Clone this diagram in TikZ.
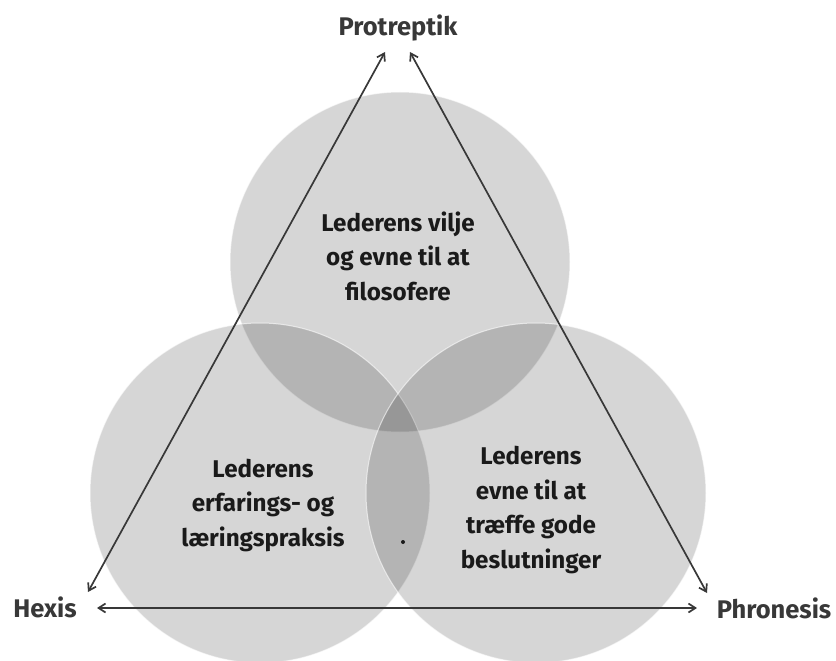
\documentclass[tikz,border=0pt]{standalone}
\usepackage{fontspec}
\setmainfont{Fira Sans}
\usetikzlibrary{arrows.meta}
\definecolor{ink}{HTML}{1A1A1A}
\definecolor{wire}{HTML}{383838}
\definecolor{pale}{HTML}{FFFFFF}

\begin{document}
\begin{tikzpicture}[x=1pt,y=-1pt,font=\bfseries\fontsize{24.2}{34.5}\selectfont,
  >={Straight Barb[length=7pt,width=9pt]},line cap=round,line join=round]
  \tikzset{
    disc/.style={fill=black,fill opacity=.16,draw=pale,draw opacity=.6,line width=1pt},
    txt/.style={ink,align=center,inner sep=1pt},
    pole/.style={wire,inner sep=1pt,font=\bfseries\fontsize{25.5}{30}\selectfont},
    link/.style={<->,wire,line width=1.7pt}
  }
  \useasboundingbox (0,0) rectangle (836,661);

  % three overlapping circles
  \path[disc] (400,262) circle[radius=170];
  \path[disc] (260,493) circle[radius=170];
  \path[disc] (536,493) circle[radius=170];
  \fill[ink] (403,542) circle[radius=2];

  % texts in the circles
  \node[txt] (vilje) at (398,256) {Lederens vilje\\og evne til at\\filosofere};
  \node[txt] (praksis) at (263,505) {Lederens\\erfarings- og\\læringspraksis};
  \node[txt] (beslut) at (531,510) {Lederens\\evne til at\\træffe gode\\beslutninger};

  % the three poles
  \node[pole] (protr) at (398,28) {Protreptik};
  \node[pole] (hexis) at (45,607) {Hexis};
  \node[pole] (phron) at (774,608) {Phronesis};

  \coordinate (protrL) at (385,52);
  \coordinate (protrR) at (410,52);
  \coordinate (hexisT) at (88,592);
  \coordinate (hexisH) at (97,608);
  \coordinate (phronT) at (707,593);
  \coordinate (phronH) at (697,608);

  \draw[link] (protrL) -- (hexisT);
  \draw[link] (protrR) -- (phronT);
  \draw[link] (hexisH) -- (phronH);
\end{tikzpicture}
\end{document}
